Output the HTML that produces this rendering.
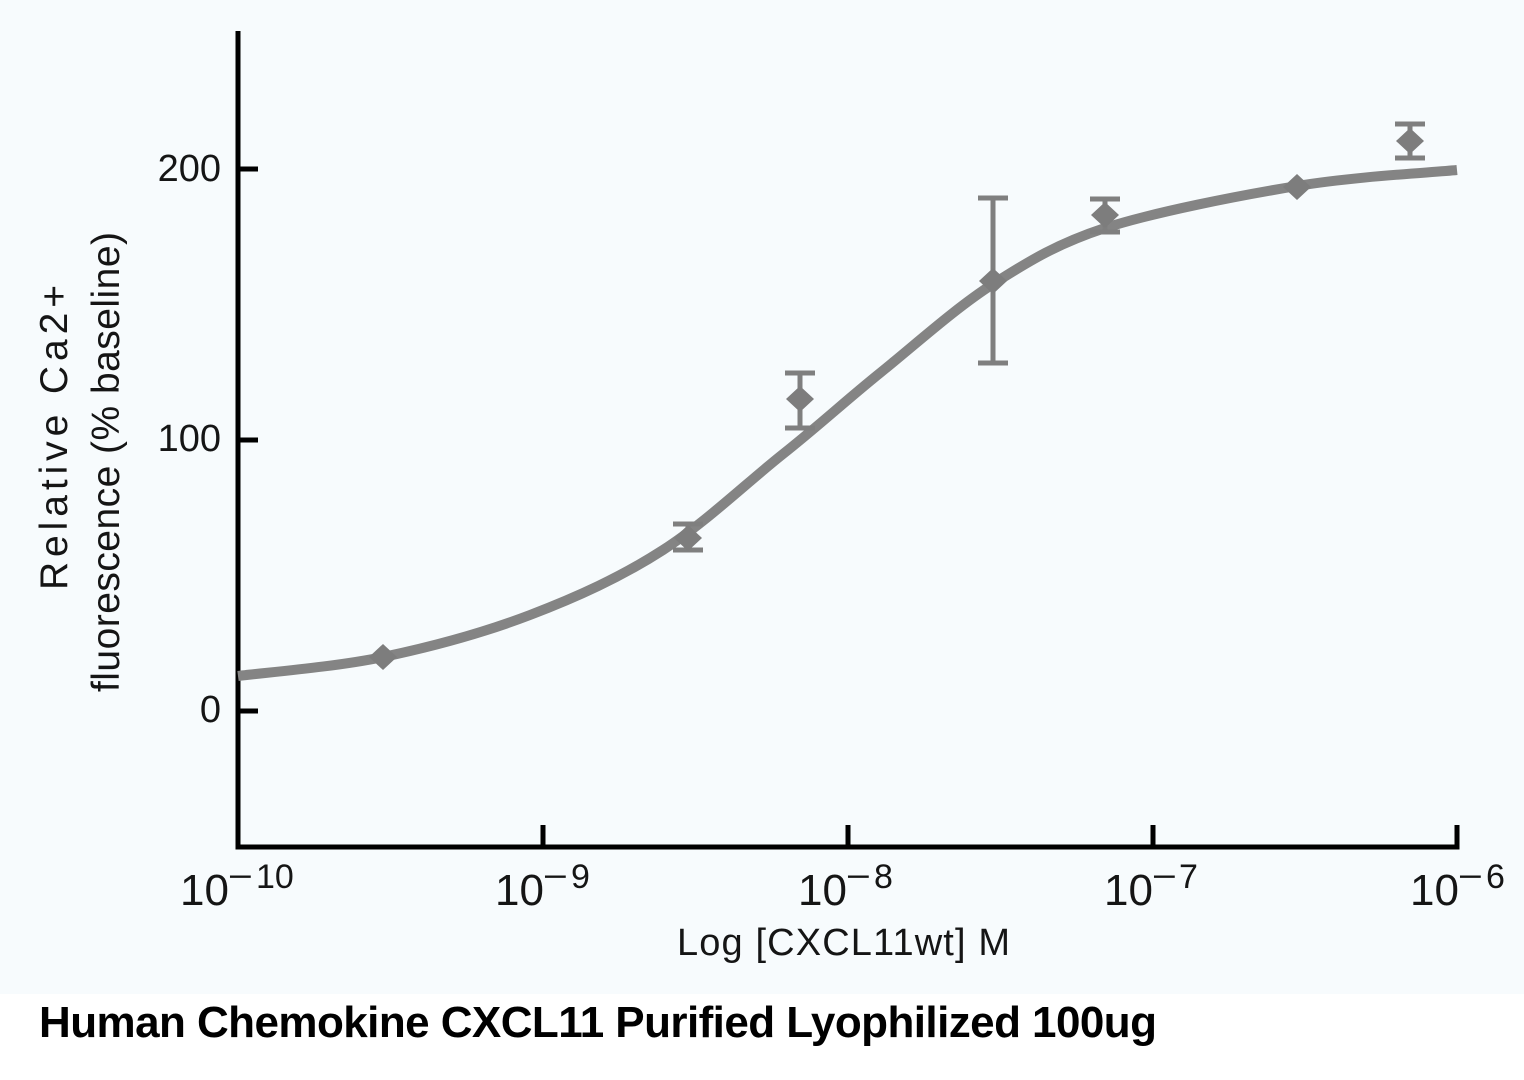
<!DOCTYPE html>
<html>
<head>
<meta charset="utf-8">
<style>
  html, body { margin: 0; padding: 0; background: #ffffff; }
  body { width: 1524px; height: 1080px; overflow: hidden; }
  svg { display: block; }
  .t { font-family: "Liberation Sans", Arial, sans-serif; fill: #151515; }
</style>
</head>
<body>
<svg width="1524" height="1080" viewBox="0 0 1524 1080" xmlns="http://www.w3.org/2000/svg">
  <rect x="0" y="0" width="1524" height="994" fill="#f7fbfd"/>
  <rect x="0" y="994" width="1524" height="86" fill="#ffffff"/>

  <!-- axes -->
  <line x1="238" y1="31" x2="238" y2="849.5" stroke="#000" stroke-width="5"/>
  <line x1="235.5" y1="847" x2="1459.5" y2="847" stroke="#000" stroke-width="5"/>

  <!-- y ticks -->
  <line x1="238" y1="169" x2="258" y2="169" stroke="#000" stroke-width="5"/>
  <line x1="238" y1="440" x2="258" y2="440" stroke="#000" stroke-width="5"/>
  <line x1="238" y1="711" x2="258" y2="711" stroke="#000" stroke-width="5"/>

  <!-- x ticks -->
  <line x1="543" y1="825" x2="543" y2="847" stroke="#000" stroke-width="5"/>
  <line x1="848" y1="825" x2="848" y2="847" stroke="#000" stroke-width="5"/>
  <line x1="1153" y1="825" x2="1153" y2="847" stroke="#000" stroke-width="5"/>
  <line x1="1457" y1="825" x2="1457" y2="847" stroke="#000" stroke-width="5"/>

  <!-- y tick labels -->
  <text class="t" x="221" y="181" font-size="38" text-anchor="end">200</text>
  <text class="t" x="221" y="451" font-size="38" text-anchor="end">100</text>
  <text class="t" x="221" y="722" font-size="38" text-anchor="end">0</text>

  <!-- x tick labels -->
  <text class="t" x="229" y="905" font-size="44" text-anchor="end">10</text>
  <text class="t" x="228" y="888" font-size="34" textLength="25" lengthAdjust="spacingAndGlyphs">−</text>
  <text class="t" x="256" y="888" font-size="34">10</text>

  <text class="t" x="544" y="905" font-size="44" text-anchor="end">10</text>
  <text class="t" x="543" y="888" font-size="34" textLength="25" lengthAdjust="spacingAndGlyphs">−</text>
  <text class="t" x="571" y="888" font-size="34">9</text>

  <text class="t" x="847" y="905" font-size="44" text-anchor="end">10</text>
  <text class="t" x="846" y="888" font-size="34" textLength="25" lengthAdjust="spacingAndGlyphs">−</text>
  <text class="t" x="874" y="888" font-size="34">8</text>

  <text class="t" x="1153" y="905" font-size="44" text-anchor="end">10</text>
  <text class="t" x="1152" y="888" font-size="34" textLength="25" lengthAdjust="spacingAndGlyphs">−</text>
  <text class="t" x="1179" y="888" font-size="34">7</text>

  <text class="t" x="1459" y="905" font-size="44" text-anchor="end">10</text>
  <text class="t" x="1458" y="888" font-size="34" textLength="25" lengthAdjust="spacingAndGlyphs">−</text>
  <text class="t" x="1486" y="888" font-size="34">6</text>

  <!-- axis titles -->
  <text class="t" x="677" y="955" font-size="38" textLength="333">Log [CXCL11wt] M</text>
  <text class="t" font-size="39" transform="translate(67,590) rotate(-90)" textLength="305">Relative Ca2+</text>
  <text class="t" font-size="39" transform="translate(119,692) rotate(-90)" textLength="460">fluorescence (% baseline)</text>

  <!-- fitted curve -->
  <path d="M238,676 C262.2,672.8 334.3,667.2 383,657 C431.7,646.8 483.3,632.8 530,615 C576.7,597.2 620.8,577.2 663,550 C705.2,522.8 746.8,482.7 783,454 C819.2,425.3 845,401.2 880,373 C915,344.8 955.5,308 993,284 C1030.5,260 1058,243.5 1105,228 C1155.7,211.8 1238.3,195.7 1297,186 C1355.7,176.3 1430.3,172.7 1457,170"
        fill="none" stroke="#848484" stroke-width="10" stroke-linecap="butt"/>

  <!-- error bars -->
  <g stroke="#7f7f7f" stroke-width="5" fill="none">
    <line x1="688" y1="524" x2="688" y2="550"/>
    <line x1="673" y1="524" x2="703" y2="524"/>
    <line x1="673" y1="550" x2="703" y2="550"/>

    <line x1="800" y1="373" x2="800" y2="428"/>
    <line x1="785" y1="373" x2="815" y2="373"/>
    <line x1="785" y1="428" x2="815" y2="428"/>

    <line x1="993" y1="198" x2="993" y2="363"/>
    <line x1="978" y1="198" x2="1008" y2="198"/>
    <line x1="978" y1="363" x2="1008" y2="363"/>

    <line x1="1105" y1="199" x2="1105" y2="232"/>
    <line x1="1090" y1="199" x2="1120" y2="199"/>
    <line x1="1090" y1="232" x2="1120" y2="232"/>

    <line x1="1410" y1="124" x2="1410" y2="158"/>
    <line x1="1395" y1="124" x2="1425" y2="124"/>
    <line x1="1395" y1="158" x2="1425" y2="158"/>
  </g>

  <!-- diamond markers -->
  <g fill="#7d7d7d">
    <polygon points="383,644 397,657 383,670 369,657"/>
    <polygon points="688,525 702,538 688,551 674,538"/>
    <polygon points="800,386 814,399 800,412 786,399"/>
    <polygon points="993,268 1007,281 993,294 979,281"/>
    <polygon points="1105,202 1119,215 1105,228 1091,215"/>
    <polygon points="1297,174 1311,187 1297,200 1283,187"/>
    <polygon points="1410,128 1424,141 1410,154 1396,141"/>
  </g>

  <!-- caption -->
  <text x="39" y="1037" font-family="'Liberation Sans', Arial, sans-serif" font-weight="bold" font-size="44" fill="#000" textLength="1118">Human Chemokine CXCL11 Purified Lyophilized 100ug</text>
</svg>
</body>
</html>
